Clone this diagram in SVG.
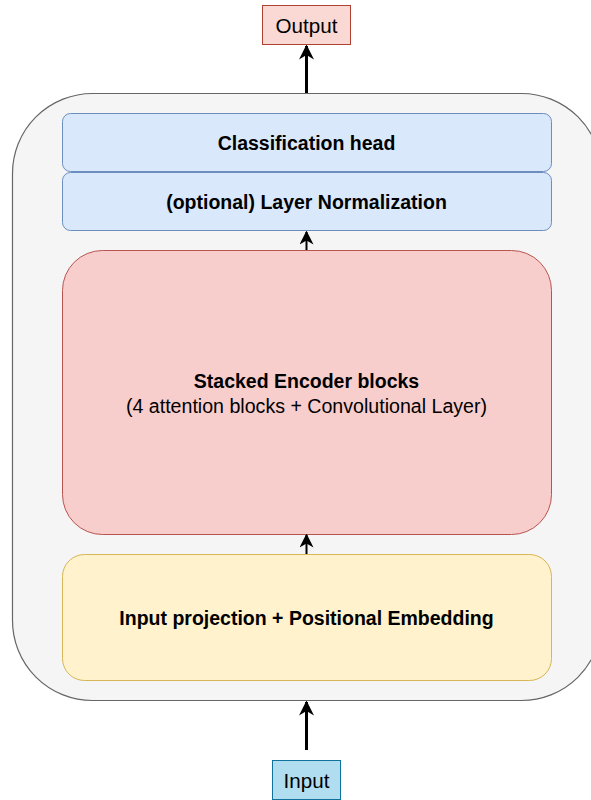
<svg xmlns="http://www.w3.org/2000/svg" width="591" height="800" viewBox="0 0 591 800">
  <style>
    text { font-family: "Liberation Sans", Arial, sans-serif; fill: #000; text-anchor: middle; dominant-baseline: central; }
    .b { font-weight: bold; font-size: 19.5px; }
    .n { font-size: 19.6px; }
    .io { font-size: 20.6px; }
    .edge { stroke: #000; fill: none; }
  </style>
  <defs>
    <marker id="arrow" viewBox="0 0 10 10" refX="9" refY="5" markerWidth="5" markerHeight="5" markerUnits="strokeWidth" orient="auto">
      <path d="M0,0 L10,5 L0,10 L3,5 Z" fill="#000"/>
    </marker>
    <marker id="arrowSmall" viewBox="0 0 10 10" refX="9" refY="5" markerWidth="7" markerHeight="7" markerUnits="strokeWidth" orient="auto">
      <path d="M0,0 L10,5 L0,10 L3,5 Z" fill="#000"/>
    </marker>
  </defs>

  <g id="container">
    <rect x="12.5" y="93.5" width="589" height="607" rx="80" ry="80" fill="#f5f5f5" stroke="#666666" stroke-width="1.2"/>
  </g>

  <g id="output">
    <rect x="262.5" y="5.5" width="88" height="39" fill="#fad9d5" stroke="#ae4132"/>
    <text class="io" x="306.5" y="25">Output</text>
  </g>

  <g id="input">
    <rect x="272.5" y="760.5" width="68" height="39" fill="#b1ddf0" stroke="#10739e"/>
    <text class="io" x="306.5" y="780">Input</text>
  </g>

  <g id="classification-head">
    <rect x="62.5" y="113.5" width="489" height="58" rx="8" ry="8" fill="#dae8fc" stroke="#6c8ebf"/>
    <text class="b" x="306.5" y="143">Classification head</text>
  </g>

  <g id="layer-norm">
    <rect x="62.5" y="172.5" width="489" height="58" rx="8" ry="8" fill="#dae8fc" stroke="#6c8ebf"/>
    <text class="b" x="306.5" y="202">(optional) Layer Normalization</text>
  </g>

  <g id="encoder">
    <rect x="62.5" y="250.5" width="489" height="284" rx="40" ry="40" fill="#f8cecc" stroke="#b85450"/>
    <text class="b" x="306.5" y="381">Stacked Encoder blocks</text>
    <text class="n" x="306.5" y="406">(4 attention blocks + Convolutional Layer)</text>
  </g>

  <g id="embedding">
    <rect x="62.5" y="554.5" width="489" height="126" rx="22" ry="22" fill="#fff2cc" stroke="#d6b656"/>
    <text class="b" x="306.5" y="618">Input projection + Positional Embedding</text>
  </g>

  <g id="connectors">
    <line class="edge" x1="306.5" y1="93" x2="306.5" y2="46" stroke-width="3" marker-end="url(#arrow)"/>
    <line class="edge" x1="306.5" y1="750" x2="306.5" y2="702" stroke-width="3" marker-end="url(#arrow)"/>
    <line class="edge" x1="306.5" y1="250" x2="306.5" y2="232" stroke-width="2" marker-end="url(#arrowSmall)"/>
    <line class="edge" x1="306.5" y1="554" x2="306.5" y2="535" stroke-width="2" marker-end="url(#arrowSmall)"/>
  </g>
</svg>
